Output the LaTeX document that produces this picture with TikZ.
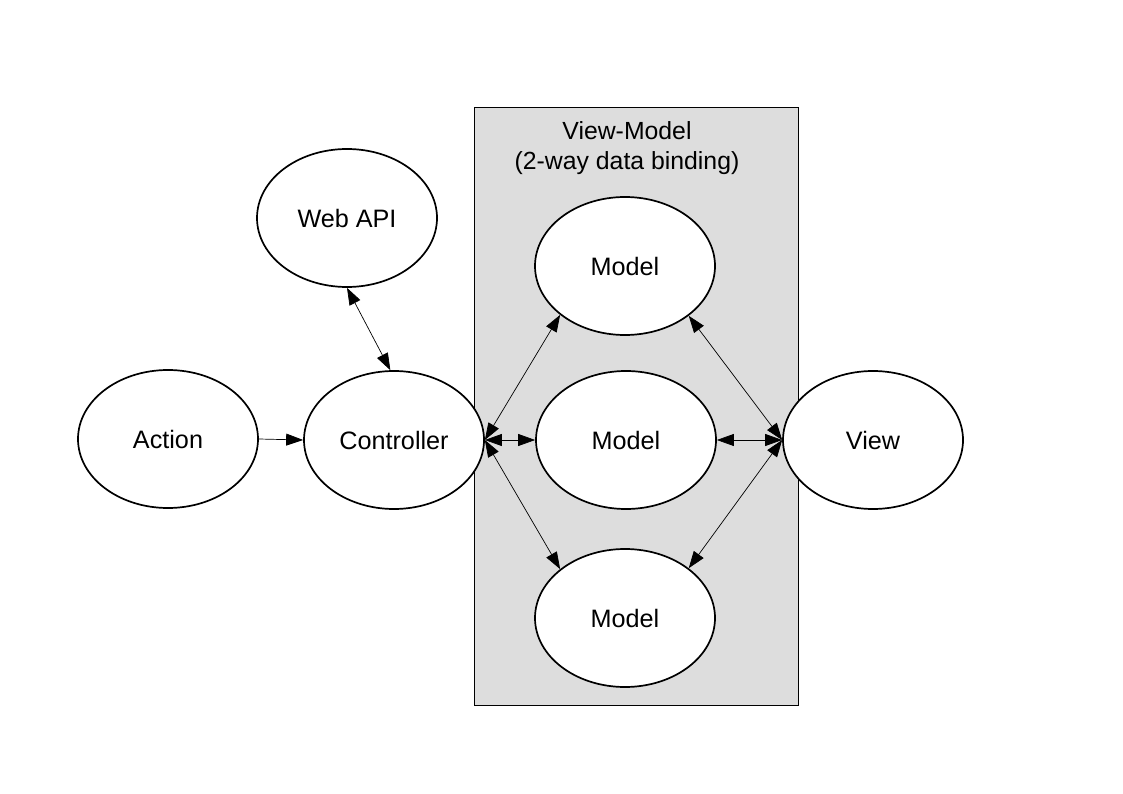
\documentclass[tikz,border=0pt]{standalone}
\usepackage{fontspec}
\setmainfont{Liberation Sans}
\usetikzlibrary{shapes.geometric,arrows.meta}
\definecolor{vmgray}{HTML}{DDDDDD}
\tikzset{
  ell/.style={ellipse,draw=black,line width=1.7pt,fill=white,minimum width=180pt,minimum height=138pt,inner sep=0pt,font=\fontsize{25.2}{30}\selectfont},
  conn/.style={line width=0.7pt,{Triangle[length=17pt,width=12pt]}-{Triangle[length=17pt,width=12pt]}},
  oneway/.style={line width=0.7pt,-{Triangle[length=17pt,width=12pt]}}
}
\begin{document}
\begin{tikzpicture}[x=1pt,y=-1pt]
\useasboundingbox (0,0) rectangle (1123,794);
\fill[white] (0,0) rectangle (1123,794);
\draw[fill=vmgray,line width=0.8pt] (474,107) rectangle (798,705);
\node[align=center,font=\fontsize{24.8}{30}\selectfont] (title) at (627,148) {View-Model\\(2-way data binding)};
\node[ell] (web) at (347,218) {Web API};
\node[ell] (action) at (168,439) {Action};
\node[ell] (ctrl) at (394,440) {Controller};
\node[ell] (mtop) at (625,266) {Model};
\node[ell] (mmid) at (626,440) {Model};
\node[ell] (mbot) at (625,618) {Model};
\node[ell] (view) at (873,440) {View};
\draw[oneway] (action.east) -- (ctrl.west);
\draw[conn] (web.south) -- (ctrl.93);
\draw[conn] (ctrl.east) -- (mtop.217);
\draw[conn] (ctrl.east) -- (mmid.west);
\draw[conn] (ctrl.east) -- (mbot.143);
\draw[conn] (mtop.322) -- (view.west);
\draw[conn] (mmid.east) -- (view.west);
\draw[conn] (mbot.38) -- (view.west);
\end{tikzpicture}
\end{document}
